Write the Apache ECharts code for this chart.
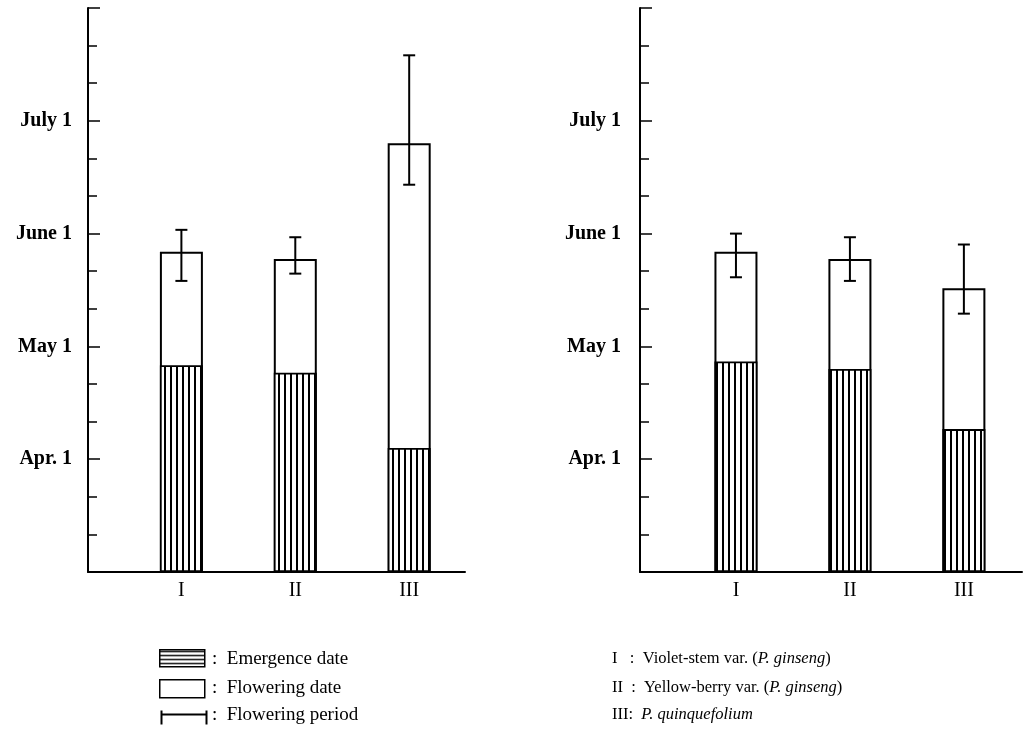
<!DOCTYPE html>
<html>
<head>
<meta charset="utf-8">
<title>Emergence and flowering dates</title>
<script src="https://cdn.jsdelivr.net/npm/echarts@6/dist/echarts.min.js"></script>
<style>
  html, body { margin: 0; padding: 0; background: #fff; }
  #chart { width: 1026px; height: 738px; }
</style>
</head>
<body>
<div id="chart"></div>
<script>
var varieties = ['I', 'II', 'III'];
var varietyPos = [1, 2, 3];

// left panel (dates as MM-DD)
var emergenceL = ['04-26', '04-24', '04-04'];
var floweringL = ['05-27', '05-25', '06-25'];
var periodStartL = ['05-19', '05-21', '06-14'];
var periodEndL = ['06-02', '05-31', '07-19'];

// right panel
var emergenceR = ['04-27', '04-25', '04-09'];
var floweringR = ['05-27', '05-25', '05-17'];
var periodStartR = ['05-20', '05-19', '05-10'];
var periodEndR = ['06-01', '05-31', '05-29'];

// y ticks, in thirds of a month counted from Mar. 1
var yTickLabels = { 3: 'Apr. 1', 6: 'May 1', 9: 'June 1', 12: 'July 1' };

var monthStart = { '03': 0, '04': 1, '05': 2, '06': 3, '07': 4, '08': 5 };
var monthDays = { '03': 31, '04': 30, '05': 31, '06': 30, '07': 31, '08': 31 };

function toPos(d) {
  var m = d.slice(0, 2);
  var day = +d.slice(3);
  return 3 * (monthStart[m] + (day - 1) / monthDays[m]);
}

function hatch(vertical) {
  var c = document.createElement('canvas');
  c.width = vertical ? 6 : 8;
  c.height = vertical ? 8 : 4;
  var ctx = c.getContext('2d');
  ctx.fillStyle = '#fff';
  ctx.fillRect(0, 0, c.width, c.height);
  ctx.fillStyle = '#000';
  if (vertical) ctx.fillRect(2, 0, 2, 8);
  else ctx.fillRect(0, 1, 8, 1.4);
  return c;
}

var serif = 'Liberation Serif';

function renderErr(params, api) {
  var x = api.value(0);
  var lo = api.coord([x, api.value(1)]);
  var hi = api.coord([x, api.value(2)]);
  var hw = 6;
  var st = { stroke: '#000', lineWidth: 2 };
  return {
    type: 'group',
    children: [
      { type: 'line', shape: { x1: lo[0], y1: lo[1], x2: hi[0], y2: hi[1] }, style: st },
      { type: 'line', shape: { x1: lo[0] - hw, y1: lo[1], x2: lo[0] + hw, y2: lo[1] }, style: st },
      { type: 'line', shape: { x1: hi[0] - hw, y1: hi[1], x2: hi[0] + hw, y2: hi[1] }, style: st }
    ]
  };
}

function panelSeries(idx, emergence, flowering, pStart, pEnd) {
  return [
    {
      name: 'Flowering date',
      type: 'bar',
      xAxisIndex: idx,
      yAxisIndex: idx,
      barWidth: 43,
      barGap: '-100%',
      itemStyle: { color: '#fff', borderColor: '#000', borderWidth: 2 },
      data: varietyPos.map(function (x, i) { return [x, toPos(flowering[i])]; })
    },
    {
      name: 'Emergence date',
      type: 'bar',
      xAxisIndex: idx,
      yAxisIndex: idx,
      barWidth: 43,
      barGap: '-100%',
      itemStyle: {
        color: { image: hatch(true), repeat: 'repeat' },
        borderColor: '#000',
        borderWidth: 1.8
      },
      data: varietyPos.map(function (x, i) { return [x, toPos(emergence[i])]; })
    },
    {
      name: 'Flowering period',
      type: 'custom',
      xAxisIndex: idx,
      yAxisIndex: idx,
      z: 5,
      renderItem: renderErr,
      data: varietyPos.map(function (x, i) { return [x, toPos(pStart[i]), toPos(pEnd[i])]; })
    }
  ];
}

function xAxis(idx, min, max) {
  return {
    type: 'value',
    gridIndex: idx,
    min: min,
    max: max,
    axisLine: { lineStyle: { color: '#000', width: 2 } },
    axisTick: { show: false },
    splitLine: { show: false },
    axisLabel: {
      customValues: varietyPos,
      formatter: function (v) { return varieties[Math.round(v) - 1]; },
      color: '#000',
      fontFamily: serif,
      fontSize: 20,
      margin: 9
    }
  };
}

function yAxis(idx, margin) {
  return {
    type: 'value',
    gridIndex: idx,
    min: 0,
    max: 15,
    interval: 3,
    axisLine: { show: true, lineStyle: { color: '#000', width: 2 } },
    axisTick: { show: true, inside: true, length: 12, lineStyle: { color: '#000', width: 1.5 } },
    minorTick: { show: true, splitNumber: 3, length: 9, lineStyle: { color: '#000', width: 1.5 } },
    splitLine: { show: false },
    axisLabel: {
      formatter: function (v) { return yTickLabels[v] || ''; },
      color: '#000',
      fontFamily: serif,
      fontWeight: 'bold',
      fontSize: 20,
      margin: margin
    }
  };
}

var keyText = { fontFamily: serif, fontSize: 19, fill: '#000' };
var varText = { fontFamily: serif, fontSize: 16.5, fill: '#000' };
var varRich = { n: varText, i: Object.assign({ fontStyle: 'italic' }, varText) };

var myChart = echarts.init(document.getElementById('chart'));

var option = {
  animation: false,
  backgroundColor: '#fff',
  grid: [
    { left: 88, top: 8, width: 377, height: 564 },
    { left: 640, top: 8, width: 382, height: 564 }
  ],
  xAxis: [xAxis(0, 0.18, 3.49), xAxis(1, 0.158, 3.51)],
  yAxis: [yAxis(0, 16), yAxis(1, 19)],
  series: panelSeries(0, emergenceL, floweringL, periodStartL, periodEndL)
    .concat(panelSeries(1, emergenceR, floweringR, periodStartR, periodEndR)),
  graphic: [
    // key for the bar styles
    { type: 'rect', left: 159, top: 649, shape: { width: 45, height: 17 },
      style: { fill: { image: hatch(false), repeat: 'repeat' }, stroke: '#000', lineWidth: 1.5 } },
    { type: 'rect', left: 159, top: 679, shape: { width: 45, height: 18 },
      style: { fill: '#fff', stroke: '#000', lineWidth: 1.5 } },
    { type: 'group', left: 159, top: 708, children: [
      { type: 'line', shape: { x1: 0, y1: 4, x2: 45, y2: 4 }, style: { stroke: '#000', lineWidth: 2 } },
      { type: 'line', shape: { x1: 0, y1: 0, x2: 0, y2: 14 }, style: { stroke: '#000', lineWidth: 2 } },
      { type: 'line', shape: { x1: 45, y1: 0, x2: 45, y2: 14 }, style: { stroke: '#000', lineWidth: 2 } }
    ] },
    { type: 'text', left: 212, top: 650, style: Object.assign({ text: ':  Emergence date' }, keyText) },
    { type: 'text', left: 212, top: 679, style: Object.assign({ text: ':  Flowering date' }, keyText) },
    { type: 'text', left: 212, top: 706, style: Object.assign({ text: ':  Flowering period' }, keyText) },
    // key for the varieties
    { type: 'text', left: 612, top: 650, style: Object.assign({
      text: '{n|I   :  Violet-stem var. (}{i|P. ginseng}{n|)}', rich: varRich }, varText) },
    { type: 'text', left: 612, top: 679, style: Object.assign({
      text: '{n|II  :  Yellow-berry var. (}{i|P. ginseng}{n|)}', rich: varRich }, varText) },
    { type: 'text', left: 612, top: 706, style: Object.assign({
      text: '{n|III:  }{i|P. quinquefolium}', rich: varRich }, varText) }
  ]
};

myChart.setOption(option);
</script>
</body>
</html>
